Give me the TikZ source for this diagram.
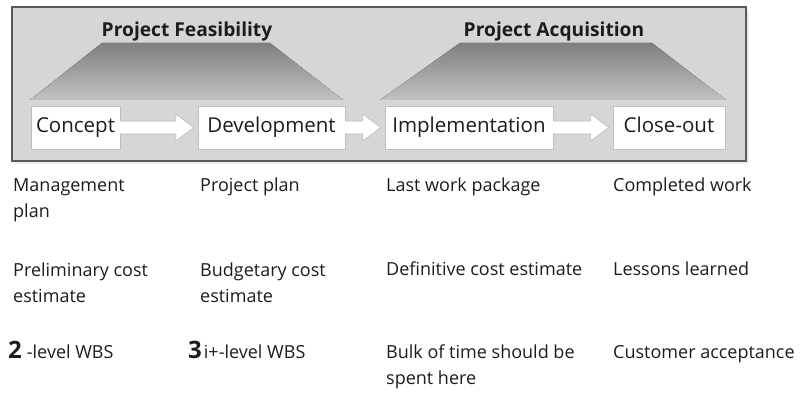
\documentclass[tikz,border=0pt]{standalone}
\usepackage{fontspec}
\setmainfont{Open Sans}
\usetikzlibrary{calc,shadows}
\definecolor{ink}{HTML}{1C1C1C}
\newcommand\blockarr[2]{%
  \path let \p1=(#1.east), \p2=(#2.west) in
    [fill=white]
    (\x1,\y1+6.5pt) -- (\x2-22pt,\y1+6.5pt) -- (\x2-22pt,\y1+13.5pt) -- (\x2-4pt,\y1)
    -- (\x2-22pt,\y1-13.5pt) -- (\x2-22pt,\y1-6.5pt) -- (\x1,\y1-6.5pt) -- cycle;
  \path let \p1=(#1.east), \p2=(#2.west) in
    [draw=black!28,line width=0.6pt]
    (\x1,\y1+6.5pt) -- (\x2-22pt,\y1+6.5pt) -- (\x2-22pt,\y1+13.5pt) -- (\x2-4pt,\y1)
    -- (\x2-22pt,\y1-13.5pt) -- (\x2-22pt,\y1-6.5pt) -- (\x1,\y1-6.5pt);}
\begin{document}
\begin{tikzpicture}[x=1pt,y=-1pt,
  lbl/.style={anchor=base west,inner sep=0pt,text=ink,align=left,
    font=\fontsize{18}{26}\selectfont},
  stage/.style={draw=black!25,fill=white,minimum height=43pt,inner sep=0pt,
    text height=15pt,text depth=5pt,
    text=ink,font=\fontsize{20.5}{24}\selectfont,
    drop shadow={opacity=0.25,shadow xshift=1.2pt,shadow yshift=-1.5pt}},
  ttl/.style={anchor=base,inner sep=0pt,text=ink,
    font=\bfseries\fontsize{19.2}{22}\selectfont},
  trap/.style={top color=black!50,bottom color=black!24,draw=none},
  big/.style={font=\bfseries\fontsize{25}{26}\selectfont}]
\useasboundingbox (0,0) rectangle (801,401);
% outer frame
\fill[black!8] (14,9) rectangle (749,164);
\draw[draw=black!65,line width=1.3pt,fill=black!16] (12,7) rectangle (746,161);
% phase trapezoids
\fill[trap] (102,43) -- (270,43) -- (343,100) -- (30,100) -- cycle;
\fill[trap] (460,43) -- (652,43) -- (726,100) -- (380,100) -- cycle;
\node[ttl] (feas) at (187,37) {Project Feasibility};
\node[ttl] (acq) at (554,37) {Project Acquisition};
% stages
\node[stage,minimum width=89pt] (concept) at (75.5,127.5) {Concept};
\node[stage,minimum width=147pt] (dev) at (271.5,127.5) {Development};
\node[stage,minimum width=168pt] (impl) at (469,127.5) {Implementation};
\node[stage,minimum width=112pt] (close) at (669,127.5) {Close-out};
\blockarr{concept}{dev}
\blockarr{dev}{impl}
\blockarr{impl}{close}
% deliverables (multi-line nodes are anchored at their last baseline)
\node[lbl] (c1) at (13,218) {Management\\plan};
\node[lbl] (d1) at (200,192) {Project plan};
\node[lbl] (i1) at (386,192) {Last work package};
\node[lbl] (o1) at (613,192) {Completed work};
\node[lbl] (c2) at (13,302) {Preliminary cost\\estimate};
\node[lbl] (d2) at (200,302) {Budgetary cost\\estimate};
\node[lbl] (i2) at (386,275) {Definitive cost estimate};
\node[lbl] (o2) at (613,275) {Lessons learned};
\node[lbl] (c3) at (8,358) {{\bfseries\fontsize{24}{26}\selectfont 2}\hspace{5pt}-level WBS};
\node[lbl] (d3) at (188,358) {{\bfseries\fontsize{24}{26}\selectfont 3}\hspace{2pt}i+-level WBS};
\node[lbl] (i3) at (386,384) {Bulk of time should be\\spent here};
\node[lbl] (o3) at (613,358) {Customer acceptance};
\end{tikzpicture}
\end{document}
